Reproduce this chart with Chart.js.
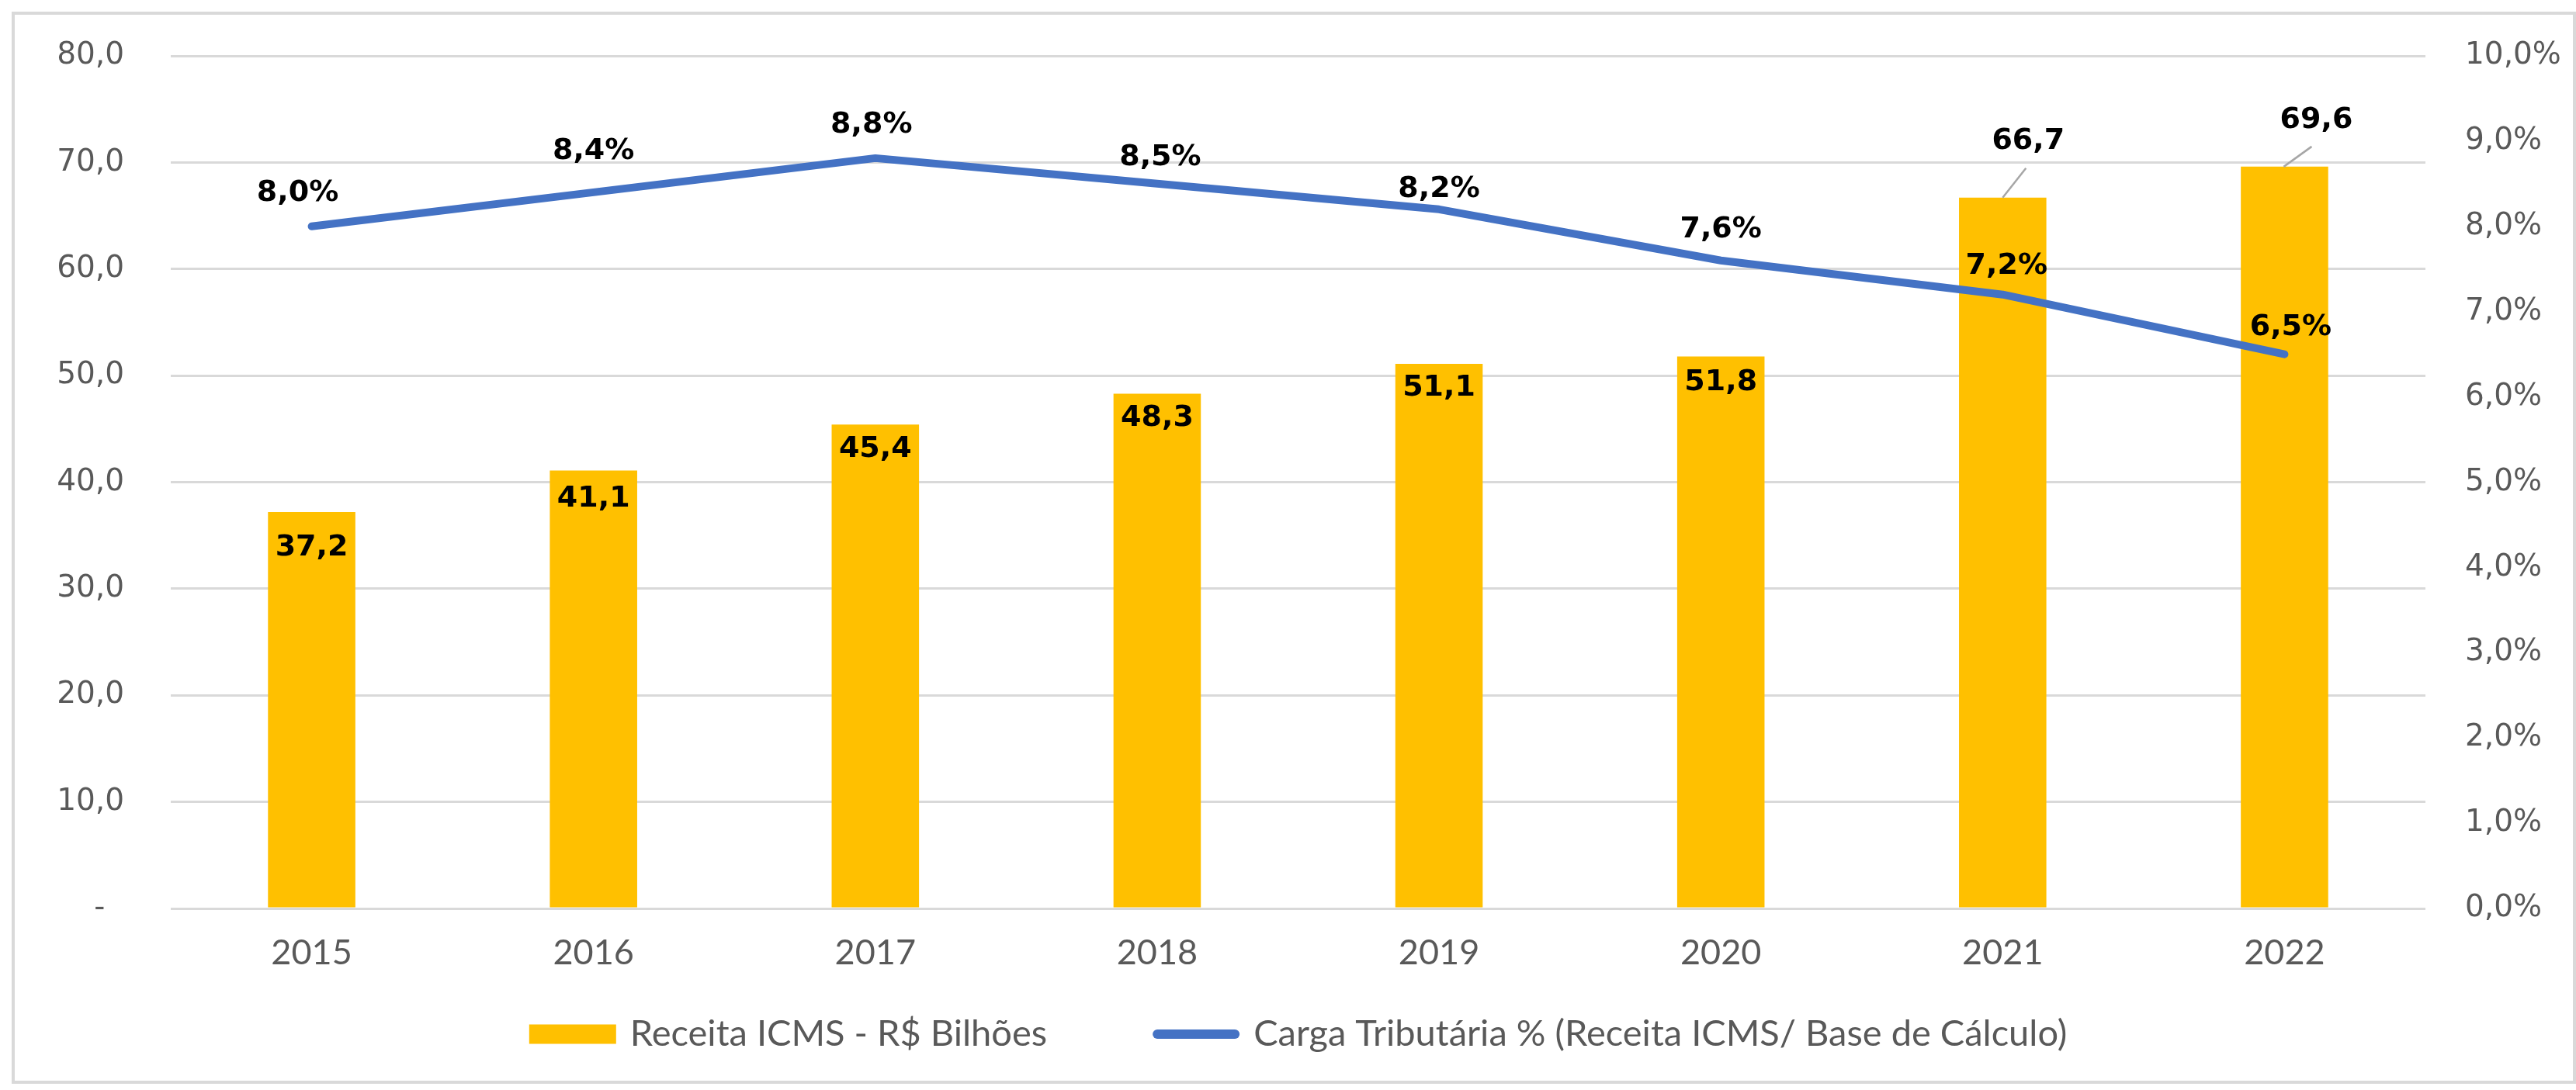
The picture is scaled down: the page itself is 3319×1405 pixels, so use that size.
<!DOCTYPE html>
<html>
<head>
<meta charset="utf-8">
<script src="https://cdn.jsdelivr.net/npm/chart.js@4/dist/chart.umd.min.js"></script>
<style>
html,body{margin:0;padding:0;background:#fff;}
#wrap{width:3319px;height:1405px;position:relative;}
</style>
</head>
<body>
<div id="wrap"><canvas id="c" width="3319" height="1405"></canvas></div>
<script>
// ---- data ----
const categories = ['2015', '2016', '2017', '2018', '2019', '2020', '2021', '2022'];
const receitaICMS = [37.2, 41.1, 45.4, 48.3, 51.1, 51.8, 66.7, 69.6];
const cargaTributaria = [8.0, 8.4, 8.8, 8.5, 8.2, 7.6, 7.2, 6.5];
const seriesNames = ['Receita ICMS - R$ Bilhões', 'Carga Tributária % (Receita ICMS/ Base de Cálculo)'];
const leftAxisMax = 80;
const leftAxisStep = 10;
const rightAxisMax = 10;
const rightAxisStep = 1;

// ---- styles ----
const BAR_COLOR = '#FFC000';
const LINE_COLOR = '#4472C4';
const GRID_COLOR = '#d9d9d9';
const TEXT_GRAY = '#595959';

const fmt = v => v.toFixed(1).replace('.', ',');

const framePlugin = {
  id: 'frame',
  beforeDraw(chart) {
    const ctx = chart.ctx;
    ctx.save();
    ctx.fillStyle = '#ffffff';
    ctx.fillRect(0, 0, chart.width, chart.height);
    ctx.strokeStyle = GRID_COLOR;
    ctx.lineWidth = 4;
    ctx.strokeRect(17, 17, chart.width - 19, chart.height - 27);
    ctx.restore();
  }
};

const labelPlugin = {
  id: 'valueLabels',
  afterDatasetsDraw(chart, args, opts) {
    const ctx = chart.ctx;
    ctx.save();
    ctx.font = 'bold 38px "DejaVu Sans"';
    ctx.textAlign = 'center';
    ctx.textBaseline = 'middle';
    ctx.fillStyle = '#000000';
    const barMeta = chart.getDatasetMeta(1);
    barMeta.data.forEach((el, i) => {
      const txt = fmt(chart.data.datasets[1].data[i]);
      const co = opts.callouts[i];
      if (co) {
        ctx.strokeStyle = '#a6a6a6';
        ctx.lineWidth = 2.5;
        ctx.beginPath();
        ctx.moveTo(el.x + co.sx, el.y);
        ctx.lineTo(el.x + co.lx, el.y + co.ly);
        ctx.stroke();
        ctx.fillText(txt, el.x + co.dx, el.y + co.dy);
      } else {
        ctx.fillText(txt, el.x, el.y + opts.insideOffsets[i]);
      }
    });
    const lineMeta = chart.getDatasetMeta(0);
    lineMeta.data.forEach((el, i) => {
      const txt = fmt(chart.data.datasets[0].data[i]) + '%';
      const o = opts.lineOffsets[i];
      ctx.fillText(txt, el.x + o[0], el.y + o[1]);
    });
    ctx.restore();
  }
};

const legendPlugin = {
  id: 'customLegend',
  afterDraw(chart) {
    const ctx = chart.ctx;
    const ca = chart.chartArea;
    ctx.save();
    ctx.font = '47px Lato';
    ctx.textBaseline = 'middle';
    ctx.textAlign = 'left';
    const sw = 112, gap = 18, spacing = 136;
    const w0 = ctx.measureText(seriesNames[0]).width;
    const w1 = ctx.measureText(seriesNames[1]).width;
    const total = sw + gap + w0 + spacing + sw + gap + w1;
    let x = (ca.left + ca.right) / 2 - total / 2;
    const y = ca.bottom + 162;
    ctx.fillStyle = BAR_COLOR;
    ctx.fillRect(x, y - 12.5, sw, 25);
    ctx.fillStyle = TEXT_GRAY;
    ctx.fillText(seriesNames[0], x + sw + gap, y);
    x += sw + gap + w0 + spacing;
    ctx.strokeStyle = LINE_COLOR;
    ctx.lineWidth = 12;
    ctx.lineCap = 'round';
    ctx.beginPath();
    ctx.moveTo(x + 6, y);
    ctx.lineTo(x + sw - 6, y);
    ctx.stroke();
    ctx.fillStyle = TEXT_GRAY;
    ctx.fillText(seriesNames[1], x + sw + gap, y);
    ctx.restore();
  }
};

new Chart(document.getElementById('c'), {
  data: {
    labels: categories,
    datasets: [
      {
        type: 'line',
        label: seriesNames[1],
        data: cargaTributaria,
        yAxisID: 'y1',
        borderColor: LINE_COLOR,
        backgroundColor: LINE_COLOR,
        borderWidth: 10,
        borderCapStyle: 'round',
        borderJoinStyle: 'round',
        pointRadius: 0,
        tension: 0,
        order: 0
      },
      {
        type: 'bar',
        label: seriesNames[0],
        data: receitaICMS,
        yAxisID: 'y',
        backgroundColor: BAR_COLOR,
        borderWidth: 0,
        barPercentage: 0.31,
        categoryPercentage: 1.0,
        order: 1
      }
    ]
  },
  options: {
    responsive: false,
    animation: false,
    devicePixelRatio: 1,
    layout: { padding: { top: 72, bottom: 134, left: 0, right: 0 } },
    plugins: {
      legend: { display: false },
      tooltip: { enabled: false },
      valueLabels: {
        insideOffsets: [46, 37, 32, 32, 31, 34, 0, 0],
        callouts: { 6: { sx: 0, lx: 30, ly: -38, dx: 33, dy: -73 }, 7: { sx: -1, lx: 35, ly: -26, dx: 41, dy: -60 } },
        lineOffsets: [[-18, -43], [0, -53], [-5, -43], [4, -34], [0, -26], [0, -40], [5, -37], [8, -35]]
      }
    },
    scales: {
      x: {
        grid: { display: false, drawTicks: false },
        border: { display: false },
        ticks: { color: TEXT_GRAY, font: { family: 'Lato', size: 45 }, padding: 30 },
        afterFit: s => { s.height = 100; }
      },
      y: {
        position: 'left',
        min: 0, max: leftAxisMax,
        grid: { color: GRID_COLOR, lineWidth: 3, drawTicks: true, tickLength: 55, tickColor: 'rgba(0,0,0,0)' },
        border: { display: false },
        ticks: {
          stepSize: leftAxisStep,
          color: TEXT_GRAY,
          font: { family: 'DejaVu Sans', size: 39 },
          padding: 5,
          callback: v => v === 0 ? '-  ' : fmt(v)
        },
        afterFit: s => { s.width = 220; }
      },
      y1: {
        position: 'right',
        min: 0, max: rightAxisMax,
        grid: { display: true, drawOnChartArea: false, drawTicks: true, tickLength: 46, tickColor: 'rgba(0,0,0,0)' },
        border: { display: false },
        ticks: {
          stepSize: rightAxisStep,
          color: TEXT_GRAY,
          font: { family: 'DejaVu Sans', size: 39 },
          padding: 5,
          callback: v => fmt(v) + '%'
        },
        afterFit: s => { s.width = 194; }
      }
    }
  },
  plugins: [framePlugin, labelPlugin, legendPlugin]
});
</script>
</body>
</html>
